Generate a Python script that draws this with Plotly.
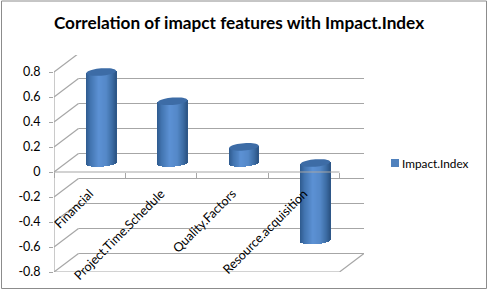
import math
import plotly.graph_objects as go

categories = ["Financial", "Project.Time.Schedule", "Quality.Factors", "Resource.acquisition"]
impact_index = [0.728, 0.494, 0.129, -0.62]
tick_values = [-0.8, -0.6, -0.4, -0.2, 0, 0.2, 0.4, 0.6, 0.8]
tick_labels = ["-0.8", "-0.6", "-0.4", "-0.2", "0", "0.2", "0.4", "0.6", "0.8"]
series_name = "Impact.Index"
title_text = "Correlation of imapct features with Impact.Index"

W, H = 488, 291
L, R, T, B = 54.0, 364.0, 55.0, 272.0      # plot box in pixels
PX_PER_UNIT = (B - 172.0) / 0.8
BAND = (339.5 - L) / 4
DX = 24.5 / BAND                            # depth in category units
DY = 18.5 / PX_PER_UNIT                     # depth in value units
X0, X1 = -0.5, -0.5 + (R - L) / BAND
Y0, Y1 = -0.8, -0.8 + (B - T) / PX_PER_UNIT
XF = 3.5                                    # right end of the front plane
GRID = "#a6a6a6"

RAD = 14.8 / BAND          # cylinder radius (category units)
ELL = 3.7 / PX_PER_UNIT    # ellipse half height (value units)
TILT = 1.1 / PX_PER_UNIT   # right side of the ellipse sits higher
SHIFT = 11.5 / BAND        # centre of the cylinder inside the depth
LIFT = 9.0 / PX_PER_UNIT

def strip_colour(t):
    # t from -1 to 1 across the cylinder: dark edges, light left of the centre
    stops = [(-1, (46, 90, 142)), (-0.7, (66, 116, 176)), (-0.15, (92, 145, 212)),
             (0.35, (84, 136, 200)), (0.75, (60, 108, 164)), (1, (44, 84, 132))]
    for (a, ca), (b, cb) in zip(stops, stops[1:]):
        if a <= t <= b:
            f = (t - a) / (b - a)
            return "rgb(%d,%d,%d)" % tuple(round(p + (q - p) * f) for p, q in zip(ca, cb))
    return "rgb(79,129,189)"

fig = go.Figure()
N = 30
sw = 2 * RAD / N
for s in range(N):
    u = -1 + (s + 0.5) * 2 / N
    curve = ELL * math.sqrt(max(0, 1 - u * u))
    bases, heights = [], []
    for v in impact_index:
        low = min(v, 0) + LIFT + TILT * u - curve
        high = max(v, 0) + LIFT + TILT * u
        bases.append(low)
        heights.append(high - low)
    fig.add_trace(go.Bar(
        x=categories, y=heights, base=bases, width=sw * 1.15,
        offset=SHIFT + u * RAD - sw / 2,
        marker=dict(color=strip_colour(u), line=dict(width=0)),
        showlegend=False, hoverinfo="skip"))

fig.add_trace(go.Scatter(
    x=[None], y=[None], mode="markers", name=series_name,
    marker=dict(symbol="square", size=8, color="#4f81bd")))

shapes = []
def line(x0, y0, x1, y1, color=GRID, width=1.2, layer="below"):
    shapes.append(dict(type="line", xref="x", yref="y", x0=x0, y0=y0, x1=x1, y1=y1,
                       line=dict(color=color, width=width), layer=layer))

for t in tick_values:
    line(X0 + DX, t + DY, X1, t + DY)        # back wall
    line(X0, t, X0 + DX, t + DY)             # side wall
line(X0, -0.8, X0, 0.8)                      # value axis
line(X0, -0.8, XF, -0.8)                     # floor front
line(XF, -0.8, XF + DX, -0.8 + DY)           # floor right
line(X0, 0, XF, 0, layer="above")            # category axis over the bars

# cylinder caps
for i, v in enumerate(impact_index):
    cx = i + SHIFT
    cy = max(v, 0) + LIFT
    pts = []
    for k in range(41):
        a = 2 * math.pi * k / 40
        u = math.cos(a)
        pts.append((cx + RAD * u, cy + TILT * u + ELL * math.sin(a)))
    path = "M" + "L".join("%.4f,%.4f" % p for p in pts) + "Z"
    shapes.append(dict(type="path", xref="x", yref="y", path=path,
                       fillcolor="#3d6ca6", line=dict(width=0), layer="above"))

# outer frame
shapes.append(dict(type="rect", xref="paper", yref="paper", x0=-L / (R - L) + 1.5 / (R - L),
                   x1=(W - 1.5 - L) / (R - L), y0=(B - 288.5) / (B - T), y1=(B - 1.0) / (B - T),
                   line=dict(color="#8c8c8c", width=1), layer="below"))

fig.update_layout(
    width=W, height=H, autosize=False,
    margin=dict(l=L, r=W - R, t=T, b=H - B, pad=0, autoexpand=False),
    paper_bgcolor="white", plot_bgcolor="rgba(0,0,0,0)",
    barmode="overlay", bargap=0,
    shapes=shapes,
    font=dict(family="Lato", color="black", size=13),
    title=dict(text="<b>%s</b>" % title_text, x=239 / W, xanchor="center",
               y=1 - 23 / H, yanchor="middle", font=dict(family="Lato", size=17.2, color="black")),
    showlegend=True,
    legend=dict(x=(362 - L) / (R - L), xanchor="left", y=(B - 163) / (B - T), yanchor="middle",
                bgcolor="rgba(0,0,0,0)", font=dict(family="Lato", size=11.8, color="black")),
    xaxis=dict(type="category", categoryorder="array", categoryarray=categories,
               range=[X0, X1], showgrid=False, zeroline=False, showline=False, automargin=False,
               tickson="boundaries", ticks="outside", ticklen=5, tickwidth=1, tickcolor=GRID,
               tickangle=-45, anchor="free", position=(B - 172) / (B - T), ticklabelstandoff=11,
               tickfont=dict(family="Lato", size=12.6, color="black"), fixedrange=True),
    yaxis=dict(range=[Y0, Y1], tickmode="array", tickvals=tick_values, ticktext=tick_labels,
               showgrid=False, zeroline=False, showline=False, automargin=False,
               ticks="outside", ticklen=4, tickwidth=1, tickcolor=GRID, ticklabelstandoff=6,
               tickfont=dict(family="Lato", size=12.5, color="black"), fixedrange=True),
)

post = """
document.body.style.margin='0';
document.querySelectorAll('.legendsymbols').forEach(function(g){g.setAttribute('transform','translate(13,0)');});
"""
fig.write_html("out.html", post_script=post, config={"displayModeBar": False})
